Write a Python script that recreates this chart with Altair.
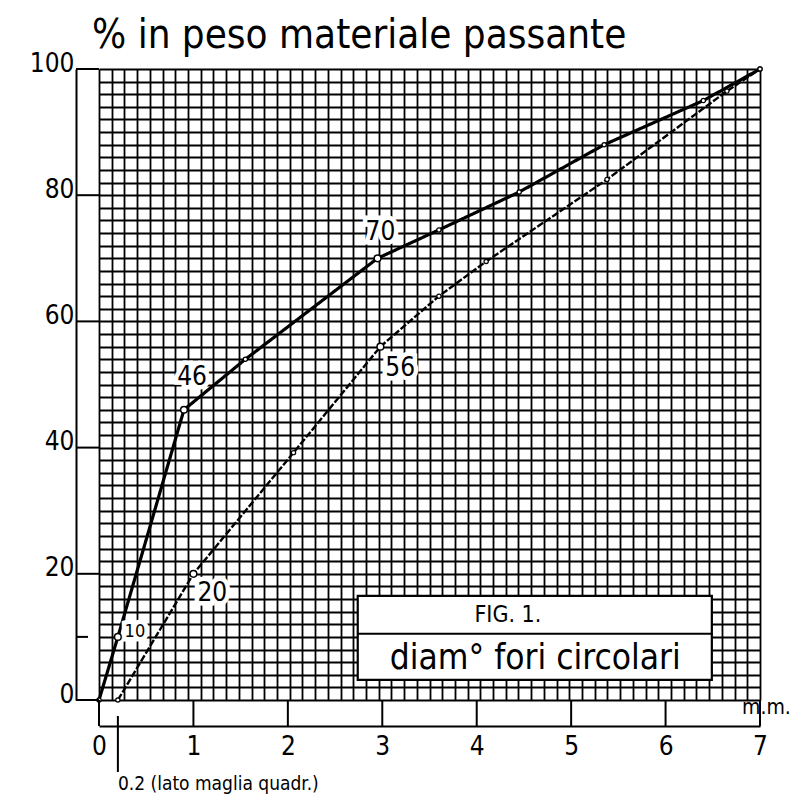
import altair as alt
import pandas as pd

FONT = "DejaVu Sans Condensed, DejaVu Sans"

# ---- data ----
upper_x = [0, 0.2, 0.9, 1.55, 2.95, 3.6, 4.45, 5.35, 6.4, 7.0]
upper_y = [0, 10, 46, 54, 70, 74.5, 80.5, 88, 95, 100]
lower_x = [0.2, 1.0, 2.06, 2.98, 3.6, 4.1, 5.38, 6.65, 7.0]
lower_y = [0, 20, 39.2, 56, 64, 69.5, 82.5, 96.5, 100]

key_x = [0.2, 0.9, 2.95, 1.0, 2.98]
key_y = [10, 46, 70, 20, 56]

lab_text = ["10", "46", "70", "20", "56"]
lab_x = [0.38, 0.985, 2.98, 1.2, 3.19]
lab_y = [10.8, 51.2, 74.2, 17, 52.6]
lab_size = [18, 26, 26, 26, 26]

x_ticks = [0, 1, 2, 3, 4, 5, 6, 7]
y_ticks = [0, 20, 40, 60, 80, 100]
y_minor = [10]

# graph-paper grid (50 cells high, 52 cells wide)
grid_x = [round(i * 7 / 52, 4) for i in range(53)]
grid_y = list(range(0, 101, 2))

# caption box
box_x, box_x2 = [2.74], [6.49]
box_y, box_y2 = [16.5], [3.2]
box_div_y = [10.5]
cap_text = ["FIG. 1.", "diam° fori circolari"]
cap_x = [4.33, 4.62]
cap_y = [13.4, 6.6]
cap_size = [23, 35]

curves = pd.DataFrame({
    "x": upper_x + lower_x,
    "y": upper_y + lower_y,
    "s": ["sup"] * len(upper_x) + ["inf"] * len(lower_x),
    "o": list(range(len(upper_x))) + list(range(len(lower_x))),
})
keys = pd.DataFrame({"x": key_x, "y": key_y})
labels = pd.DataFrame({"t": lab_text, "x": lab_x, "y": lab_y, "fs": lab_size})
box = pd.DataFrame({"x": box_x, "x2": box_x2, "y": box_y, "y2": box_y2})
div = pd.DataFrame({"x": box_x, "x2": box_x2, "y": box_div_y})
caps = pd.DataFrame({"t": cap_text, "x": cap_x, "y": cap_y, "fs": cap_size})

xs = alt.Scale(domain=[0, 7], nice=False, zero=False)
ys = alt.Scale(domain=[0, 100], nice=False, zero=False)


def X(field="x:Q"):
    return alt.X(field, scale=xs, axis=None)


def Y(field="y:Q"):
    return alt.Y(field, scale=ys, axis=None)


# grid layer (axes used only for the graph-paper grid)
grid_layer = alt.Chart(keys).mark_point(opacity=0).encode(
    x=alt.X("x:Q", scale=xs, axis=alt.Axis(orient="top", values=grid_x, grid=True, labels=False,
                                           ticks=False, domain=False, title=None,
                                           gridColor="black", gridWidth=1.8, gridOpacity=1)),
    y=alt.Y("y:Q", scale=ys, axis=alt.Axis(orient="right", values=grid_y, grid=True, labels=False,
                                           ticks=False, domain=False, title=None,
                                           gridColor="black", gridWidth=1.8, gridOpacity=1)),
)

box_layer = alt.Chart(box).mark_rect(fill="white", stroke="black", strokeWidth=2.2).encode(
    x=X(), x2="x2:Q", y=Y(), y2="y2:Q"
)
div_layer = alt.Chart(div).mark_rule(color="black", strokeWidth=2.2).encode(
    x=X(), x2="x2:Q", y=Y()
)
cap_layer = alt.Chart(caps).mark_text(font=FONT, color="black").encode(
    x=X(), y=Y(), text="t:N", size=alt.Size("fs:Q", scale=None, legend=None)
)

line_layer = alt.Chart(curves).mark_line(color="black").encode(
    x=alt.X("x:Q", scale=xs, axis=alt.Axis(orient="bottom", values=x_ticks, grid=False, ticks=False,
                                           offset=26, labelPadding=7, labelFontSize=26, labelFont=FONT,
                                           labelColor="black", labelFlush=False, domainColor="black",
                                           domainWidth=2, title=None, format="d")),
    y=alt.Y("y:Q", scale=ys, axis=alt.Axis(orient="left", values=y_ticks, grid=False, ticks=False,
                                           offset=23, labelPadding=2, labelFontSize=26, labelFont=FONT,
                                           labelColor="black", labelOffset=-6, domainColor="black",
                                           domainWidth=2, title=None, format="d")),
    detail="s:N",
    order="o:Q",
    strokeWidth=alt.StrokeWidth("s:N", scale=alt.Scale(domain=["sup", "inf"], range=[3.2, 2.4]), legend=None),
    strokeDash=alt.StrokeDash("s:N", scale=alt.Scale(domain=["sup", "inf"], range=[[1, 0], [7, 2]]), legend=None),
)

pts = alt.Chart(curves).mark_point(shape="circle", filled=True, fill="white", stroke="black",
                                   strokeWidth=1.2, size=18, opacity=1).encode(x=X(), y=Y())
key_pts = alt.Chart(keys).mark_point(shape="circle", filled=True, fill="white", stroke="black",
                                     strokeWidth=1.5, size=45, opacity=1).encode(x=X(), y=Y())

lab_halo = alt.Chart(labels).mark_text(font=FONT, stroke="white", strokeWidth=9, fill="white").encode(
    x=X(), y=Y(), text="t:N", size=alt.Size("fs:Q", scale=None, legend=None)
)
lab_text_layer = alt.Chart(labels).mark_text(font=FONT, color="black").encode(
    x=X(), y=Y(), text="t:N", size=alt.Size("fs:Q", scale=None, legend=None)
)

ytick_layer = alt.Chart(pd.DataFrame({"y": y_ticks})).mark_rule(color="black", strokeWidth=2).encode(
    y=Y(), x=alt.value(-23), x2=alt.value(0)
)
yminor_layer = alt.Chart(pd.DataFrame({"y": y_minor})).mark_rule(color="black", strokeWidth=2).encode(
    y=Y(), x=alt.value(-23), x2=alt.value(-11)
)
xtick_layer = alt.Chart(pd.DataFrame({"x": x_ticks})).mark_rule(color="black", strokeWidth=2).encode(
    x=X(), y=alt.value(631), y2=alt.value(657)
)
mesh_tick = alt.Chart(pd.DataFrame({"x": [0.2]})).mark_rule(color="black", strokeWidth=2).encode(
    x=X(), y=alt.value(647), y2=alt.value(703)
)
mesh_label = alt.Chart(pd.DataFrame({"x": [0.2], "y": [-13.3], "t": ["0.2 (lato maglia quadr.)"]})).mark_text(
    font=FONT, fontSize=19, align="left", baseline="middle", color="black"
).encode(x=X(), y=Y(), text="t:N")
unit_label = alt.Chart(pd.DataFrame({"x": [6.81], "y": [-1.3], "t": ["m.m."]})).mark_text(
    font=FONT, fontSize=21, align="left", baseline="middle", color="black"
).encode(x=X(), y=Y(), text="t:N")

chart = alt.layer(
    grid_layer, box_layer, div_layer, cap_layer, line_layer, pts, key_pts,
    lab_halo, lab_text_layer, ytick_layer, yminor_layer, xtick_layer, mesh_tick,
    mesh_label, unit_label,
).resolve_axis(x="independent", y="independent").properties(
    width=661, height=631,
    padding={"left": 91, "top": 61, "right": 35, "bottom": 98},
    autosize=alt.AutoSizeParams(type="none"),
    title=alt.TitleParams("% in peso materiale passante", anchor="start", frame="group",
                          fontSize=40, font=FONT, fontWeight="normal", color="black",
                          dx=-7, offset=-6),
).configure_view(stroke="black", strokeWidth=2.5).configure(background="white")

chart.save("out.html", embed_options={"renderer": "svg", "actions": False})
